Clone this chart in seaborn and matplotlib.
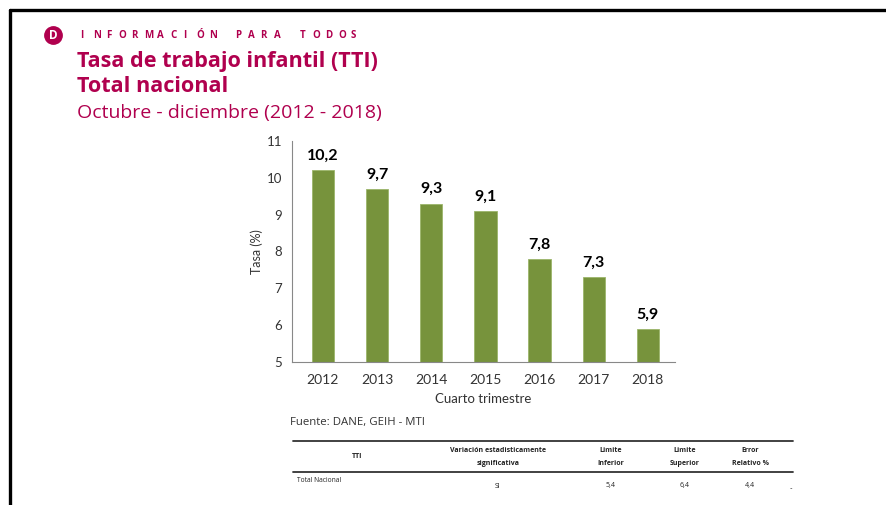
import matplotlib
matplotlib.use("Agg")
import matplotlib.pyplot as plt
from matplotlib.lines import Line2D
import seaborn as sns
import pandas as pd

# data
years = ["2012", "2013", "2014", "2015", "2016", "2017", "2018"]
tti = [10.2, 9.7, 9.3, 9.1, 7.8, 7.3, 5.9]
y_ticks = [5, 6, 7, 8, 9, 10, 11]

table_header = ["TTI", "Variación estadisticamente\nsignificativa", "Limite\nInferior",
                "Limite\nSuperior", "Error\nRelativo %"]
table_row = ["Total Nacional", "SI", "5,4", "6,4", "4,4"]

MAGENTA = "#B0004E"
GREEN = "#77933C"

sns.set_style("white")
plt.rcParams['font.family'] = ['Lato', 'DejaVu Sans']

W, H = 886, 505
fig = plt.figure(figsize=(W / 100, H / 100), dpi=100)


def fx(px):
    return px / W


def fy(py):
    return 1 - py / H


# page frame (top and left border)
fig.add_artist(Line2D([fx(10), 1], [fy(10), fy(10)], color="black", lw=2.4))
fig.add_artist(Line2D([fx(10), fx(10)], [fy(10), 0], color="black", lw=2.4))

# logo
fig.add_artist(Line2D([fx(53)], [fy(35)], marker="o", markersize=12.5,
                      color=MAGENTA, lw=0, zorder=3))
fig.text(fx(53.5), fy(35), "D", color="white", fontsize=8.5, fontweight="bold",
         ha="center", va="center", family="Open Sans", zorder=4)

# header letters, spaced out
header = "INFORMACIÓN PARA TODOS"
x0 = 80
for ch in header:
    fig.text(fx(x0), fy(35), ch, color=MAGENTA, fontsize=7, fontweight="bold",
             ha="left", va="center", family="Open Sans")
    x0 += 12.9

fig.text(fx(77), fy(61), "Tasa de trabajo infantil (TTI)", color=MAGENTA,
         fontsize=15.6, fontweight="bold", ha="left", va="center", family="Open Sans")
fig.text(fx(77), fy(87), "Total nacional", color=MAGENTA,
         fontsize=15.6, fontweight="bold", ha="left", va="center", family="Open Sans")
fig.text(fx(77), fy(113), "Octubre - diciembre (2012 - 2018)", color=MAGENTA,
         fontsize=14, ha="left", va="center", family="Open Sans")

# chart
ax = fig.add_axes([fx(292), fy(362), fx(675) - fx(292), fy(141) - fy(362)])
df = pd.DataFrame({"year": years, "tti": tti})
sns.barplot(data=df, x="year", y="tti", color=GREEN, width=0.41, saturation=1,
            edgecolor="#9BB56A", linewidth=0.6, ax=ax)

for i, v in enumerate(tti):
    ax.text(i, v + 0.2, f"{v:.1f}".replace(".", ","), ha="center", va="bottom",
            fontsize=11.5, fontweight="bold", color="black")

ax.set_ylim(5, 11)
ax.set_xlim(-0.57, 6.5)
ax.set_yticks(y_ticks)
ax.tick_params(axis="y", length=3, color="#888888", labelsize=9.5, pad=4,
               labelcolor="#333333")
ax.tick_params(axis="x", length=0, labelsize=10, pad=9, labelcolor="#333333")
ax.set_xlabel("Cuarto trimestre", fontsize=9.5, labelpad=5, color="#333333")
ax.set_ylabel("Tasa (%)", fontsize=9, labelpad=3, color="#333333")
sns.despine(ax=ax)
for s in ["left", "bottom"]:
    ax.spines[s].set_color("#888888")
    ax.spines[s].set_linewidth(0.8)

# source
fig.text(fx(290), fy(423), "Fuente: DANE, GEIH - MTI", fontsize=8.2,
         color="#333333", ha="left", va="center", family="Open Sans")

# table below chart
fig.add_artist(Line2D([fx(293), fx(793)], [fy(441), fy(441)], color="#333333", lw=1.3))
fig.add_artist(Line2D([fx(293), fx(793)], [fy(472), fy(472)], color="#333333", lw=1.3))
col_x = [357, 498, 611, 685, 750]
for cx, label in zip(col_x, table_header):
    fig.text(fx(cx), fy(457), label, fontsize=5, fontweight="bold", ha="center",
             va="center", linespacing=2.3, family="Open Sans", color="#222222")
fig.text(fx(297), fy(481), table_row[0], fontsize=4.8, ha="left", va="center",
         family="Open Sans", color="#222222")
for cx, label in zip(col_x[1:], table_row[1:]):
    fig.text(fx(cx), fy(486), label, fontsize=5, ha="center", va="center",
             family="Open Sans", color="#222222")
fig.text(fx(791), fy(489), "-", fontsize=5, ha="center", va="center", color="#222222")

fig.savefig("out.png", dpi=100)
